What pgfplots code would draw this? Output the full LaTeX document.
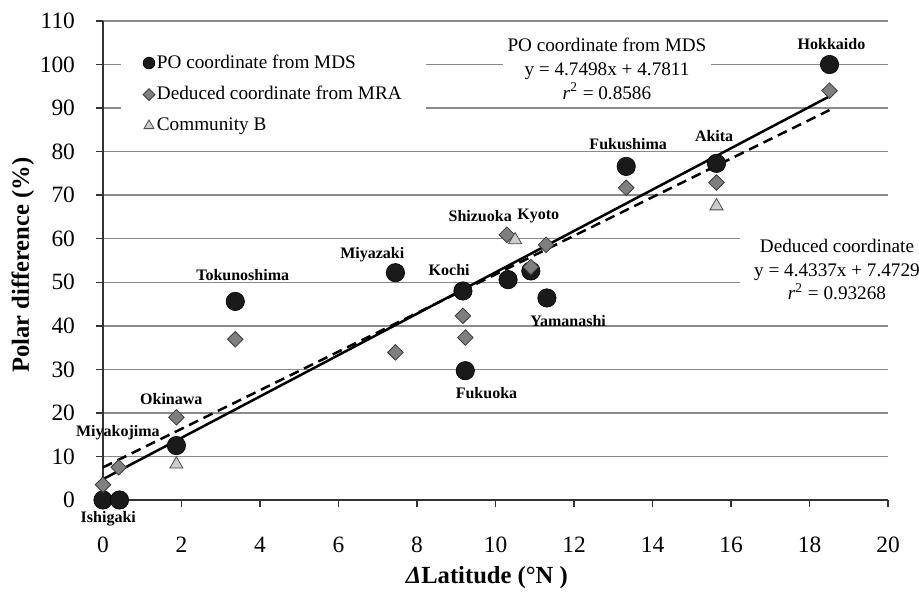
\documentclass[border=0pt]{standalone}
\usepackage{fontspec}
\setmainfont{Liberation Serif}
\usepackage{pgfplots}
\pgfplotsset{compat=1.18}
\definecolor{circ}{HTML}{1A1A1A}
\definecolor{diam}{HTML}{7F7F7F}
\definecolor{diamedge}{HTML}{3A3A3A}
\definecolor{tri}{HTML}{CCCCCC}
\definecolor{triedge}{HTML}{4D4D4D}
\definecolor{gridc}{HTML}{8A8A8A}
\pgfplotsset{
 every x tick label/.append style={yshift=-11.5pt},
 every y tick label/.append style={xshift=-7pt},
}
\begin{document}
\begin{tikzpicture}
\begin{axis}[
 scale only axis, width=392.5pt, height=239.5pt,
 xmin=0, xmax=20, ymin=0, ymax=110,
 xtick={0,2,...,20}, ytick={0,10,...,110},
 axis x line=bottom, axis y line=left,
 axis line style={-, black!80, line width=0.7pt},
 tick align=outside, major tick length=3.5pt,
 tick style={black!80, line width=0.7pt},
 ymajorgrids, grid style={gridc, line width=0.7pt},
 tick label style={font=\fontsize{11.7}{13}\selectfont},
 /pgf/number format/assume math mode=true,
 xlabel={\textit{Δ}Latitude (°N )},
 ylabel={Polar difference (\%)},
 xlabel style={at={(axis description cs:0.489,-0.162)}, anchor=center, font=\bfseries\fontsize{12.3}{14}\selectfont},
 ylabel style={at={(axis description cs:-0.102,0.49)}, anchor=center, font=\bfseries\fontsize{12.3}{14}\selectfont},
 legend style={at={(axis cs:0.45,106)}, anchor=north west, draw=none, fill=white,
   font=\fontsize{9.6}{11}\selectfont, row sep=3.5pt, inner xsep=11pt, inner ysep=6pt,
   nodes={inner xsep=1pt}},
 legend cell align=left,
 legend image code/.code={\draw[#1] plot coordinates {(0pt,0pt)};},
 clip=false,
]
% PO coordinate from MDS
\addplot[only marks, mark=*, mark size=4.6pt, mark options={fill=circ, draw=black, line width=0.3pt}, forget plot] coordinates {
 (0,0) (0.42,0) (1.87,12.5) (3.37,45.6) (7.45,52.2) (9.17,48.0) (9.23,29.7)
 (10.32,50.6) (10.9,52.6) (11.31,46.4) (13.33,76.6) (15.63,77.3) (18.51,100)
};
% Deduced coordinate from MRA
\addplot[only marks, mark=square*, mark size=2.75pt, mark options={rotate=45, fill=diam, draw=diamedge, line width=0.4pt}, forget plot] coordinates {
 (0,3.5) (0.4,7.5) (1.87,19.0) (3.37,36.9) (7.45,33.9) (9.17,42.3) (9.23,37.3)
 (10.29,60.9) (10.9,53.5) (11.29,58.6) (13.33,71.7) (15.63,72.9) (18.51,94.0)
};
% Community B
\addplot[only marks, mark=triangle*, mark size=3.8pt, mark options={fill=tri, draw=triedge, line width=0.4pt}, forget plot] coordinates {
 (1.87,8.2) (10.5,59.7) (15.63,67.5)
};
% trend lines
\addplot[black, line width=1.25pt, forget plot] coordinates {(0,4.7811) (18.51,92.70)};
\addplot[black, line width=1.25pt, dash pattern=on 5pt off 3pt, forget plot] coordinates {(0,7.4729) (18.51,89.54)};

\addlegendimage{only marks, mark=*, mark size=2.9pt, mark options={fill=circ, draw=black}}
\addlegendentry{PO coordinate from MDS}
\addlegendimage{only marks, mark=square*, mark size=2.1pt, mark options={rotate=45, fill=diam, draw=diamedge, line width=0.4pt}}
\addlegendentry{Deduced coordinate from MRA\hspace{6pt}}
\addlegendimage{only marks, mark=triangle*, mark size=2.9pt, mark options={fill=tri, draw=triedge, line width=0.4pt}}
\addlegendentry{Community B}

\begin{scope}[every node/.style={font=\bfseries\fontsize{8}{9.6}\selectfont, anchor=center, inner sep=0pt}]
\node at (axis cs:0.135,-4.3) {Ishigaki};
\node at (axis cs:0.38,15.45) {Miyakojima};
\node at (axis cs:1.74,23.25) {Okinawa};
\node at (axis cs:3.56,51.7) {Tokunoshima};
\node at (axis cs:6.86,56.3) {Miyazaki};
\node at (axis cs:8.82,52.9) {Kochi};
\node at (axis cs:9.77,24.65) {Fukuoka};
\node at (axis cs:11.85,41.0) {Yamanashi};
\node at (axis cs:9.61,65.1) {Shizuoka};
\node at (axis cs:11.09,65.25) {Kyoto};
\node at (axis cs:13.38,81.8) {Fukushima};
\node at (axis cs:15.57,83.6) {Akita};
\node at (axis cs:18.56,104.7) {Hokkaido};
\end{scope}

\node[align=center, fill=white, inner xsep=2.5pt, inner ysep=3pt, font=\fontsize{9.6}{11.8}\selectfont] at (axis cs:12.84,99.0)
 {PO coordinate from MDS\\y = 4.7498x + 4.7811\\\textit{r}\textsuperscript{2} = 0.8586};
\node[align=center, fill=white, inner xsep=7pt, inner ysep=4pt, font=\fontsize{9.6}{11.8}\selectfont] at (axis cs:18.7,52.9)
 {Deduced coordinate\\y = 4.4337x + 7.4729\\\textit{r}\textsuperscript{2} = 0.93268};
\end{axis}
\pgfresetboundingbox
\path (-51.5pt,-46pt) rectangle (408pt,250pt);
\end{tikzpicture}
\end{document}
